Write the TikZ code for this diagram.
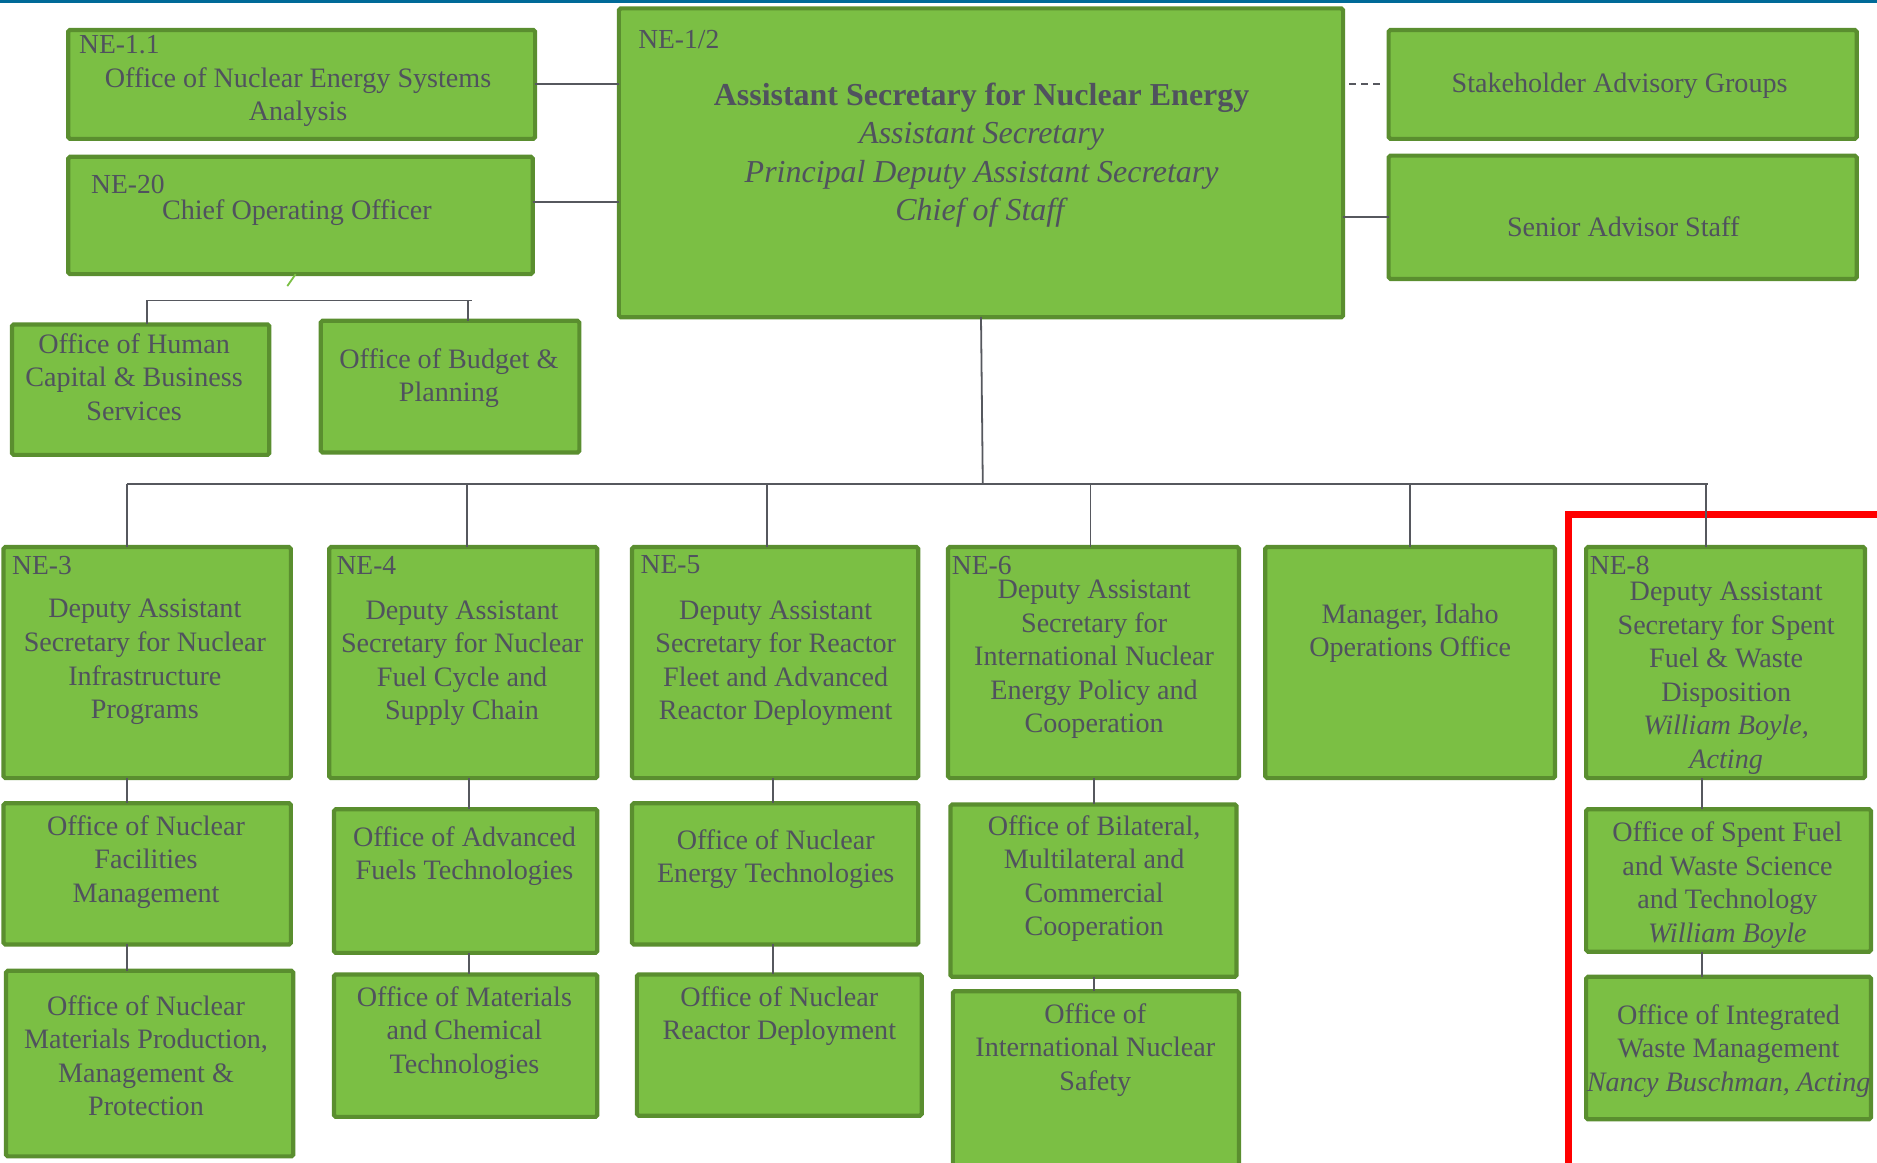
\documentclass[tikz,border=0pt]{standalone}
\usepackage{fontspec}
\setmainfont{Liberation Serif}
\definecolor{boxfill}{HTML}{7BBF44}
\definecolor{boxline}{HTML}{5A8E2F}
\definecolor{txtc}{HTML}{50525E}
\definecolor{linec}{HTML}{56585E}
\definecolor{topblue}{HTML}{006A98}
\newcommand\obox[5]{\node[obx,minimum width={(#4-#2)*1pt},minimum height={(#5-#3)*1pt},anchor=north west] (#1) at (#2,#3) {};}
\begin{document}
\begin{tikzpicture}[x=1pt,y=-1pt,
  obx/.style={draw=boxline,fill=boxfill,line width=3.5pt,rounded corners=1.5pt,inner sep=0pt,outer sep=0pt},
  txt/.style={text=txtc,align=center,inner sep=0pt,font=\fontsize{23.5}{28}\selectfont},
  lbl/.style={text=txtc,anchor=west,inner sep=0pt,font=\fontsize{23}{28}\selectfont},
  conn/.style={draw=linec,line width=1.5pt}]
\useasboundingbox (0,0) rectangle (1568,971);
\clip (0,0) rectangle (1568,971);
\fill[topblue] (0,0) rectangle (1568,2.5);

% top left boxes
\obox{ne11}{57}{25}{447}{116}
\node[lbl] (ne11l) at (66,37) {NE-1.1};
\node[txt] (ne11t) at (249,81) {Office of Nuclear Energy Systems\\Analysis};
\obox{ne20}{57}{131}{445}{229}
\node[lbl] (ne20l) at (76,154) {NE-20};
\node[txt] (ne20t) at (248,178) {Chief Operating Officer};
\obox{hc}{10}{271}{225}{380}
\node[txt] (hct) at (112,315) {Office of Human\\Capital \& Business\\Services};
\obox{bp}{268}{268}{484}{378}
\node[txt] (bpt) at (375,316) {Office of Budget \&\\Planning};

% main box
\obox{ne12}{517}{7}{1122}{265}
\node[lbl] (ne12l) at (533,33) {NE-1/2};
\node[txt,font=\fontsize{26.7}{32}\selectfont] (ne12t) at (820,129.5) {\textbf{Assistant Secretary for Nuclear Energy}\\\textit{Assistant Secretary}\\\textit{Principal Deputy Assistant Secretary}\\\textit{Chief of Staff}};

% right boxes
\obox{sag}{1160}{25}{1551}{116}
\node[txt] (sagt) at (1353,72) {Stakeholder Advisory Groups};
\obox{sas}{1160}{130}{1551}{233}
\node[txt] (sast) at (1356,189) {Senior Advisor Staff};

% second level
\obox{ne3}{3}{457}{243}{650}
\node[lbl] (ne3l) at (10,472) {NE-3};
\node[txt] (ne3t) at (121,553) {Deputy Assistant\\Secretary for Nuclear\\Infrastructure\\Programs};
\obox{ne4}{275}{457}{499}{650}
\node[lbl] (ne4l) at (281,472) {NE-4};
\node[txt] (ne4t) at (386,554) {Deputy Assistant\\Secretary for Nuclear\\Fuel Cycle and\\Supply Chain};
\obox{ne5}{528}{457}{767}{650}
\node[lbl] (ne5l) at (535,472) {NE-5};
\node[txt] (ne5t) at (648,554) {Deputy Assistant\\Secretary for Reactor\\Fleet and Advanced\\Reactor Deployment};
\obox{ne6}{792}{457}{1035}{650}
\node[lbl] (ne6l) at (795,472) {NE-6};
\node[txt] (ne6t) at (914,551) {Deputy Assistant\\Secretary for\\International Nuclear\\Energy Policy and\\Cooperation};
\obox{idaho}{1057}{457}{1299}{650}
\node[txt] (idahot) at (1178,529) {Manager, Idaho\\Operations Office};
\obox{ne8}{1325}{457}{1558}{650}
\node[lbl] (ne8l) at (1328,472) {NE-8};
\node[txt] (ne8t) at (1442,566.5) {Deputy Assistant\\Secretary for Spent\\Fuel \& Waste\\Disposition\\\textit{William Boyle,}\\\textit{Acting}};

% third level
\obox{ne3a}{3}{671}{243}{789}
\node[txt] (ne3at) at (122,720) {Office of Nuclear\\Facilities\\Management};
\obox{ne3b}{5}{811}{245}{966}
\node[txt] (ne3bt) at (122,882) {Office of Nuclear\\Materials Production,\\Management \&\\Protection};
\obox{ne4a}{279}{676}{499}{796}
\node[txt] (ne4at) at (388,715) {Office of Advanced\\Fuels Technologies};
\obox{ne4b}{279}{814}{499}{933}
\node[txt] (ne4bt) at (388,863) {Office of Materials\\and Chemical\\Technologies};
\obox{ne5a}{528}{671}{767}{789}
\node[txt] (ne5at) at (648,717.5) {Office of Nuclear\\Energy Technologies};
\obox{ne5b}{532}{814}{770}{932}
\node[txt] (ne5bt) at (651,849) {Office of Nuclear\\Reactor Deployment};
\obox{ne6a}{794}{672}{1033}{816}
\node[txt] (ne6at) at (914,734) {Office of Bilateral,\\Multilateral and\\Commercial\\Cooperation};
\obox{ne6b}{796}{828}{1035}{990}
\node[txt] (ne6bt) at (915,877) {Office of\\International Nuclear\\Safety};
\obox{ne8a}{1325}{676}{1563}{795}
\node[txt] (ne8at) at (1443,739.5) {Office of Spent Fuel\\and Waste Science\\and Technology\\\textit{William Boyle}};
\obox{ne8b}{1325}{816}{1563}{935}
\node[txt] (ne8bt) at (1444,878) {Office of Integrated\\Waste Management\\\textit{Nancy Buschman, Acting}};

% red highlight
\draw[red,line width=6pt] (1310,430) rectangle (1600,1000);

% connectors top
\draw[conn] (ne11.east) -- (ne11.east -| ne12.west);
\coordinate (y169) at (0,169);
\draw[conn] (ne20.east |- y169) -- (ne12.west |- y169);
\draw[conn] (sas.west) -- (sas.west -| ne12.east);
\draw[draw=linec,line width=1.5pt,dash pattern=on 6pt off 4pt] ([xshift=5pt]ne12.east |- sag.west) -- ([xshift=-7pt]sag.west);
\draw[boxfill,line width=1.5pt] (247,229) -- (240,239);
\coordinate (c1) at (123,251);
\coordinate (c2) at (391,251);
\draw[conn] (hc.north -| c1) -- (c1) -- (394,251);
\draw[conn] (c2) -- (c2 |- bp.north);

% bus
\coordinate (bus) at (821,404);
\draw[conn] (ne12.south) -- (bus);
\coordinate (b3) at (106,404);
\coordinate (b4) at (390,404);
\coordinate (b5) at (641,404);
\coordinate (b6) at (911,404);
\coordinate (bi) at (1178,404);
\coordinate (b8) at (1425,404);
\draw[conn] (b3) -- (1427,404);
\draw[conn] (b3) -- (b3 |- ne3.north);
\draw[conn] (b4) -- (b4 |- ne4.north);
\draw[conn] (b5) -- (b5 |- ne5.north);
\draw[conn] (b6) -- (b6 |- ne6.north);
\draw[conn] (bi) -- (bi |- idaho.north);
\draw[conn] (b8) -- (b8 |- ne8.north);

% column connectors
\draw[conn] (b3 |- ne3.south) -- (b3 |- ne3a.north);
\draw[conn] (b3 |- ne3a.south) -- (b3 |- ne3b.north);
\coordinate (k4) at (392,0);
\draw[conn] (k4 |- ne4.south) -- (k4 |- ne4a.north);
\draw[conn] (k4 |- ne4a.south) -- (k4 |- ne4b.north);
\coordinate (k5) at (646,0);
\draw[conn] (k5 |- ne5.south) -- (k5 |- ne5a.north);
\draw[conn] (k5 |- ne5a.south) -- (k5 |- ne5b.north);
\coordinate (k6) at (914,0);
\draw[conn] (k6 |- ne6.south) -- (k6 |- ne6a.north);
\draw[conn] (k6 |- ne6a.south) -- (k6 |- ne6b.north);
\coordinate (k8) at (1422,0);
\draw[conn] (k8 |- ne8.south) -- (k8 |- ne8a.north);
\draw[conn] (k8 |- ne8a.south) -- (k8 |- ne8b.north);
\end{tikzpicture}
\end{document}
